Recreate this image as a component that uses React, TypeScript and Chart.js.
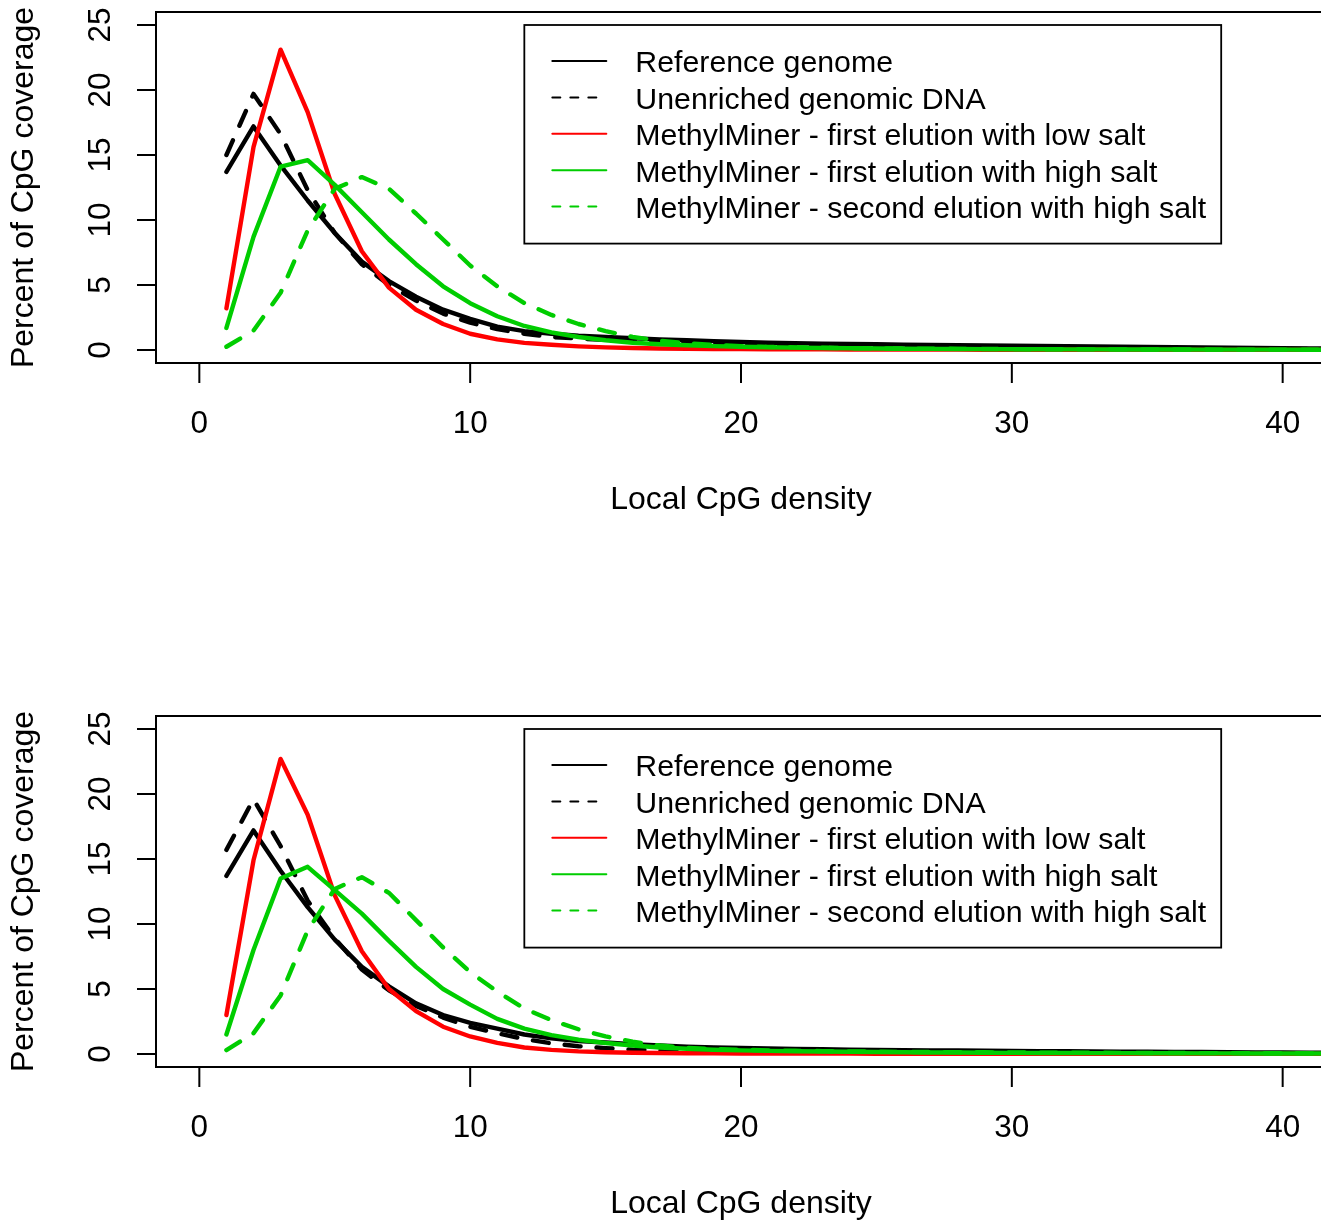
import React, { useEffect, useRef } from "react";
import { Chart, registerables } from "chart.js";

Chart.register(...registerables);

// ---------- data ----------
const DENSITY = [
  1, 2, 3, 4, 5, 6, 7, 8, 9, 10, 11, 12, 13, 14, 15, 16, 17, 18, 19, 20, 21,
  22, 23, 24, 25, 26, 27, 28, 29, 30, 31, 32, 33, 34, 35, 36, 37, 38, 39, 40,
  41, 42,
];
const X_TICKS = [0, 10, 20, 30, 40];
const Y_TICKS = [0, 5, 10, 15, 20, 25];
const X_TITLE = "Local CpG density";
const Y_TITLE = "Percent of CpG coverage";
const SERIES_LABELS = [
  "Reference genome",
  "Unenriched genomic DNA",
  "MethylMiner - first elution with low salt",
  "MethylMiner - first elution with high salt",
  "MethylMiner - second elution with high salt",
];
const SERIES_COLORS = ["#000000", "#000000", "#FF0000", "#00CD00", "#00CD00"];
const SERIES_DASHED = [false, true, false, false, true];
const LEGEND_AT = [12, 25];

const TOP_REFERENCE = [
  13.7, 17.2, 14.2, 11.5, 9.0, 6.8, 5.3, 4.1, 3.1, 2.4,
  1.8, 1.45, 1.25, 1.1, 1.0, 0.9, 0.82, 0.75, 0.68, 0.62,
  0.56, 0.52, 0.49, 0.46, 0.44, 0.41, 0.39, 0.37, 0.35, 0.33,
  0.31, 0.29, 0.27, 0.25, 0.23, 0.21, 0.19, 0.17, 0.15, 0.14, 0.12, 0.11,
];
const TOP_UNENRICHED = [
  15.0, 19.7, 16.6, 12.3, 9.0, 6.6, 5.0, 3.8, 2.8, 2.1,
  1.6, 1.25, 1.0, 0.88, 0.78, 0.66, 0.56, 0.49, 0.43, 0.38,
  0.34, 0.31, 0.29, 0.27, 0.25, 0.24, 0.22, 0.21, 0.2, 0.19,
  0.18, 0.17, 0.16, 0.15, 0.14, 0.13, 0.12, 0.11, 0.1, 0.09, 0.08, 0.07,
];
const TOP_LOW_SALT = [
  3.2, 15.6, 23.1, 18.3, 12.0, 7.6, 4.8, 3.1, 2.0, 1.25,
  0.82, 0.55, 0.4, 0.28, 0.2, 0.15, 0.12, 0.1, 0.08, 0.07,
  0.06, 0.05, 0.05, 0.04, 0.04, 0.03, 0.03, 0.03, 0.02, 0.02,
  0.02, 0.02, 0.02, 0.01, 0.01, 0.01, 0.01, 0.01, 0.01, 0.01, 0.01, 0.01,
];
const TOP_HIGH_SALT_1 = [
  1.7, 8.7, 14.1, 14.6, 12.7, 10.6, 8.5, 6.6, 4.9, 3.6,
  2.6, 1.85, 1.35, 1.0, 0.75, 0.56, 0.44, 0.36, 0.3, 0.25,
  0.21, 0.18, 0.15, 0.13, 0.11, 0.1, 0.09, 0.08, 0.07, 0.06,
  0.06, 0.05, 0.05, 0.04, 0.04, 0.04, 0.03, 0.03, 0.03, 0.03, 0.02, 0.02,
];
const TOP_HIGH_SALT_2 = [
  0.25, 1.5, 4.4, 9.2, 12.4, 13.3, 12.4, 10.5, 8.5, 6.5,
  4.9, 3.6, 2.7, 2.0, 1.45, 1.0, 0.72, 0.52, 0.38, 0.3,
  0.24, 0.2, 0.17, 0.14, 0.12, 0.11, 0.1, 0.09, 0.08, 0.07,
  0.06, 0.06, 0.05, 0.05, 0.04, 0.04, 0.04, 0.03, 0.03, 0.03, 0.02, 0.02,
];

const BOT_REFERENCE = [
  13.7, 17.2, 14.1, 11.3, 8.8, 6.7, 5.2, 3.9, 3.0, 2.4,
  1.95, 1.5, 1.2, 1.0, 0.88, 0.76, 0.66, 0.57, 0.5, 0.46,
  0.42, 0.39, 0.36, 0.34, 0.32, 0.3, 0.28, 0.27, 0.25, 0.24,
  0.22, 0.21, 0.2, 0.18, 0.17, 0.16, 0.15, 0.14, 0.12, 0.11, 0.1, 0.09,
];
const BOT_UNENRICHED = [
  15.7, 19.6, 16.0, 11.8, 8.9, 6.5, 4.9, 3.7, 2.8, 2.1,
  1.6, 1.15, 0.82, 0.6, 0.45, 0.33, 0.27, 0.23, 0.2, 0.18,
  0.17, 0.16, 0.15, 0.14, 0.13, 0.12, 0.12, 0.11, 0.1, 0.1,
  0.09, 0.09, 0.08, 0.08, 0.07, 0.07, 0.06, 0.06, 0.05, 0.05, 0.05, 0.04,
];
const BOT_LOW_SALT = [
  3.0, 14.9, 22.7, 18.4, 12.2, 7.9, 5.0, 3.3, 2.1, 1.35,
  0.85, 0.5, 0.32, 0.2, 0.13, 0.1, 0.08, 0.06, 0.05, 0.04,
  0.04, 0.03, 0.03, 0.03, 0.02, 0.02, 0.02, 0.02, 0.02, 0.01,
  0.01, 0.01, 0.01, 0.01, 0.01, 0.01, 0.01, 0.01, 0.01, 0.01, 0.01, 0.01,
];
const BOT_HIGH_SALT_1 = [
  1.5, 8.0, 13.5, 14.4, 12.6, 10.8, 8.7, 6.7, 5.0, 3.8,
  2.7, 1.95, 1.45, 1.1, 0.85, 0.65, 0.5, 0.4, 0.33, 0.28,
  0.24, 0.21, 0.19, 0.17, 0.15, 0.14, 0.12, 0.11, 0.1, 0.09,
  0.08, 0.08, 0.07, 0.07, 0.06, 0.06, 0.05, 0.05, 0.04, 0.04, 0.04, 0.03,
];
const BOT_HIGH_SALT_2 = [
  0.3, 1.6, 4.5, 9.5, 12.7, 13.6, 12.4, 10.3, 8.2, 6.3,
  4.8, 3.5, 2.6, 1.9, 1.35, 0.95, 0.65, 0.48, 0.38, 0.32,
  0.28, 0.25, 0.22, 0.2, 0.18, 0.16, 0.15, 0.14, 0.13, 0.12,
  0.11, 0.1, 0.1, 0.09, 0.08, 0.08, 0.07, 0.07, 0.06, 0.06, 0.05, 0.05,
];

const TOP_SERIES = [TOP_REFERENCE, TOP_UNENRICHED, TOP_LOW_SALT, TOP_HIGH_SALT_1, TOP_HIGH_SALT_2];
const BOT_SERIES = [BOT_REFERENCE, BOT_UNENRICHED, BOT_LOW_SALT, BOT_HIGH_SALT_1, BOT_HIGH_SALT_2];

// ---------- style ----------
const FONT_FAMILY = '"Liberation Sans", Arial, Helvetica, sans-serif';
const FONT = `30.3px ${FONT_FAMILY}`;
const TICK_FONT = `31.5px ${FONT_FAMILY}`;
const TITLE_FONT = `32px ${FONT_FAMILY}`;
const CANVAS_W = 1340;
const CANVAS_H = 704;

const rPlotPlugin = {
  id: "rPlot",
  afterDraw(chart: any) {
    const { ctx, chartArea: a, scales } = chart;
    const xs = scales.x;
    const ys = scales.y;
    const seg = (x1: number, y1: number, x2: number, y2: number) => {
      ctx.beginPath();
      ctx.moveTo(x1, y1);
      ctx.lineTo(x2, y2);
      ctx.stroke();
    };
    ctx.save();
    ctx.strokeStyle = "#000";
    ctx.fillStyle = "#000";
    ctx.lineWidth = 2;
    ctx.lineCap = "butt";
    ctx.setLineDash([]);
    // box
    ctx.strokeRect(a.left, a.top, a.right - a.left, a.bottom - a.top);
    // ticks
    Y_TICKS.forEach((v) => {
      const y = ys.getPixelForValue(v);
      seg(a.left - 19, y, a.left, y);
    });
    X_TICKS.forEach((v) => {
      const x = xs.getPixelForValue(v);
      seg(x, a.bottom, x, a.bottom + 20);
    });
    ctx.font = TICK_FONT;
    // x tick labels
    ctx.textAlign = "center";
    ctx.textBaseline = "alphabetic";
    X_TICKS.forEach((v) => {
      ctx.fillText(String(v), xs.getPixelForValue(v), a.bottom + 69.5);
    });
    // y tick labels (rotated)
    Y_TICKS.forEach((v) => {
      ctx.save();
      ctx.translate(a.left - 46, ys.getPixelForValue(v));
      ctx.rotate(-Math.PI / 2);
      ctx.fillText(String(v), 0, 0);
      ctx.restore();
    });
    // titles
    ctx.font = TITLE_FONT;
    ctx.fillText(X_TITLE, (a.left + a.right) / 2, a.bottom + 146);
    ctx.save();
    ctx.translate(a.left - 123, (a.top + a.bottom) / 2);
    ctx.rotate(-Math.PI / 2);
    ctx.fillText(Y_TITLE, 0, 0);
    ctx.restore();

    // legend
    ctx.font = FONT;
    const lx = xs.getPixelForValue(LEGEND_AT[0]);
    const ly = ys.getPixelForValue(LEGEND_AT[1]);
    const maxW = Math.max(...SERIES_LABELS.map((s) => ctx.measureText(s).width));
    const rowH = 36.4;
    const lw = 111 + maxW + 15;
    const lh = 36 + rowH * (SERIES_LABELS.length - 1) + 37;
    ctx.lineWidth = 1.8;
    ctx.strokeRect(lx, ly, lw, lh);
    ctx.textAlign = "left";
    SERIES_LABELS.forEach((label, i) => {
      const y = ly + 36 + i * rowH;
      ctx.strokeStyle = SERIES_COLORS[i];
      ctx.lineWidth = 2;
      ctx.lineCap = "round";
      ctx.setLineDash(SERIES_DASHED[i] ? [8, 10] : []);
      seg(lx + 28, y, lx + 82, y);
      ctx.setLineDash([]);
      ctx.fillStyle = "#000";
      ctx.fillText(label, lx + 111, y + 11.3);
    });
    ctx.restore();
  },
};

function Panel({ series, top }: { series: number[][]; top: number }) {
  const ref = useRef<HTMLCanvasElement | null>(null);
  useEffect(() => {
    if (!ref.current) return;
    const chart = new Chart(ref.current, {
      type: "line",
      data: {
        datasets: series.map((vals, i) => ({
          label: SERIES_LABELS[i],
          data: DENSITY.map((x, j) => ({ x, y: vals[j] })),
          borderColor: SERIES_COLORS[i],
          backgroundColor: SERIES_COLORS[i],
          borderWidth: 4.4,
          borderDash: SERIES_DASHED[i] ? [16, 16] : [],
          borderCapStyle: "round",
          borderJoinStyle: "round",
          pointRadius: 0,
          tension: 0,
          fill: false,
          order: series.length - i,
        })),
      },
      options: {
        responsive: false,
        animation: false,
        events: [],
        layout: { padding: { left: 156, top: 12, right: 14, bottom: 341 } },
        plugins: { legend: { display: false }, tooltip: { enabled: false } },
        scales: {
          x: { type: "linear", min: -1.6, max: 41.6, display: false },
          y: { type: "linear", min: -1, max: 26, display: false },
        },
      },
      plugins: [rPlotPlugin],
    } as any);
    return () => chart.destroy();
  }, [series]);
  return (
    <canvas
      ref={ref}
      width={CANVAS_W}
      height={CANVAS_H}
      style={{ position: "absolute", left: 0, top, width: CANVAS_W, height: CANVAS_H }}
    />
  );
}

export default function App() {
  return (
    <div
      style={{
        position: "fixed",
        left: 0,
        top: 0,
        width: 1321,
        height: 1220,
        overflow: "hidden",
        background: "#fff",
      }}
    >
      <Panel series={TOP_SERIES} top={0} />
      <Panel series={BOT_SERIES} top={704} />
    </div>
  );
}
